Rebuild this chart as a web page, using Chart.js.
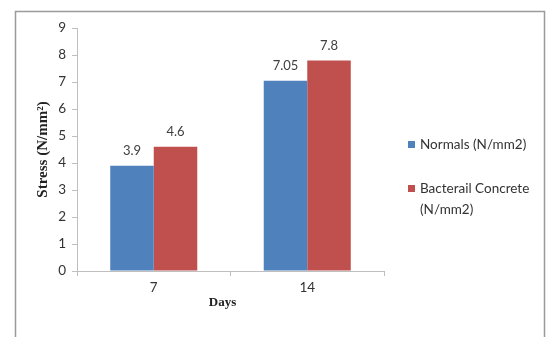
<!DOCTYPE html>
<html><head><meta charset="utf-8">
<script src="https://cdn.jsdelivr.net/npm/chart.js@4.4.0/dist/chart.umd.min.js"></script>
<style>html,body{margin:0;padding:0;background:#fff;}#wrap{width:553px;height:337px;position:relative;}</style>
</head><body><div id="wrap"><canvas id="c" width="553" height="337"></canvas></div>
<script>
const categories = ["7", "14"];
const normals = [3.9, 7.05];
const bacterial = [4.6, 7.8];
const seriesNames = ["Normals (N/mm2)", ["Bacterail Concrete", "(N/mm2)"]];
const yTicks = [0, 1, 2, 3, 4, 5, 6, 7, 8, 9];
const xTitle = "Days";
const yTitle = "Stress (N/mm²)";

const FONT = "Lato, 'Liberation Sans', sans-serif";
const SERIF = "'Liberation Serif', 'DejaVu Serif', serif";
const colors = ["#4F81BD", "#C0504D"];

const framePlugin = {
  id: 'frame',
  beforeDraw(chart) {
    const ctx = chart.ctx;
    ctx.save();
    ctx.fillStyle = '#fff';
    ctx.fillRect(0, 0, chart.width, chart.height);
    ctx.strokeStyle = '#9a9a9a';
    ctx.lineWidth = 1.5;
    ctx.strokeRect(15.5, 11.5, 529, 340);
    ctx.restore();
  }
};

const labelPlugin = {
  id: 'vals',
  afterDatasetsDraw(chart) {
    const ctx = chart.ctx;
    ctx.save();
    ctx.font = "13px " + FONT;
    ctx.fillStyle = '#404040';
    ctx.textAlign = 'center';
    ctx.textBaseline = 'bottom';
    chart.data.datasets.forEach((ds, i) => {
      chart.getDatasetMeta(i).data.forEach((bar, j) => {
        ctx.fillText(String(ds.data[j]), bar.x, bar.y - 8);
      });
    });
    // x axis title
    ctx.font = "bold 13px " + SERIF;
    ctx.fillStyle = '#222';
    ctx.textBaseline = 'middle';
    const ca = chart.chartArea;
    ctx.fillText(xTitle, (ca.left + ca.right) / 2 - 8, 303);
    ctx.restore();
  }
};

const legendPlugin = {
  id: 'customLegend',
  afterDraw(chart) {
    const ctx = chart.ctx;
    ctx.save();
    ctx.font = "13.5px " + FONT;
    ctx.textBaseline = 'middle';
    const starts = [145, 189];
    chart.data.datasets.forEach((ds, i) => {
      const y0 = starts[i];
      ctx.fillStyle = ds.backgroundColor;
      ctx.fillRect(408, y0 - 4, 7, 7);
      ctx.fillStyle = '#333';
      const lines = Array.isArray(ds.label) ? ds.label : [ds.label];
      lines.forEach((t, k) => ctx.fillText(t, 420, y0 + k * 21));
    });
    ctx.restore();
  }
};

new Chart(document.getElementById('c'), {
  type: 'bar',
  data: {
    labels: categories,
    datasets: [
      { label: seriesNames[0], data: normals, backgroundColor: colors[0] },
      { label: seriesNames[1], data: bacterial, backgroundColor: colors[1] }
    ]
  },
  options: {
    responsive: false,
    animation: false,
    devicePixelRatio: 1,
    layout: { padding: { left: 0, top: 28, right: 169, bottom: 0 } },
    datasets: { bar: { categoryPercentage: 0.567, barPercentage: 1.0 } },
    plugins: { legend: { display: false }, tooltip: { enabled: false } },
    scales: {
      x: {
        grid: { display: true, drawOnChartArea: false, drawTicks: true, tickLength: 5, color: '#bfbfbf', offset: true },
        border: { color: '#bfbfbf' },
        ticks: { color: '#333', font: { family: FONT, size: 13.5 }, padding: 4 },
        afterFit(s) { s.height = 66; }
      },
      y: {
        min: 0, max: 9,
        afterBuildTicks(s) { s.ticks = yTicks.map(v => ({ value: v })); },
        grid: { display: true, drawOnChartArea: false, drawTicks: true, tickLength: 5, color: '#bfbfbf' },
        border: { color: '#bfbfbf' },
        ticks: { color: '#333', font: { family: FONT, size: 13.5 }, padding: 6 },
        title: { display: true, text: yTitle, color: '#222', font: { family: SERIF, size: 15, weight: 'bold' }, padding: { top: 34, bottom: 0 } },
        afterFit(s) { s.width = 77; }
      }
    }
  },
  plugins: [framePlugin, labelPlugin, legendPlugin]
});
</script></body></html>
